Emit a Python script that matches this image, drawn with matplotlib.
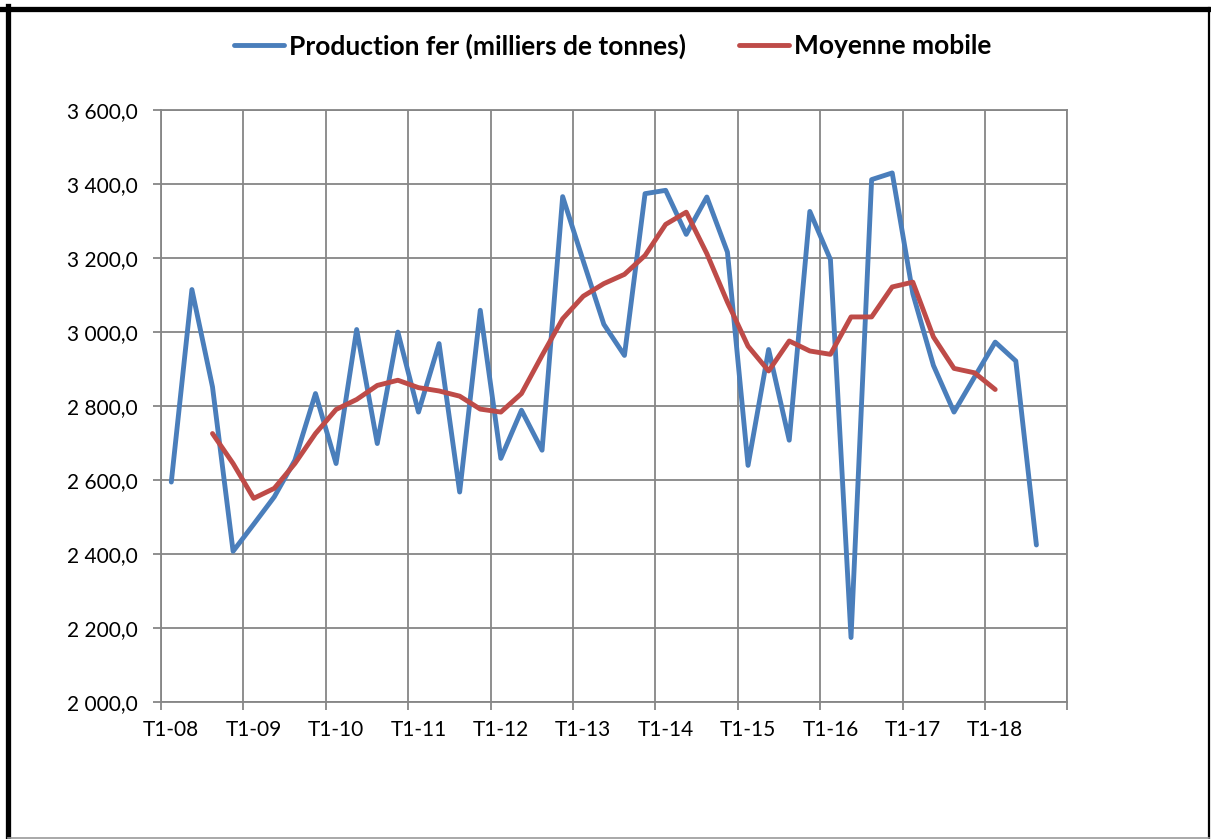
import matplotlib
matplotlib.use("Agg")
import matplotlib.pyplot as plt
from matplotlib.lines import Line2D
from matplotlib.ticker import FixedLocator, FuncFormatter

plt.rcParams['font.family'] = ['Lato', 'DejaVu Sans']

# ---- data ----
years = list(range(8, 19))
categories = [f"T{q}-{y:02d}" for y in years for q in range(1, 5)]  # 44 quarters
production = [2595, 3115, 2852, 2408, 2481, 2555, 2654, 2834, 2645, 3007,
              2699, 3000, 2784, 2969, 2568, 3059, 2659, 2789, 2681, 3366,
              3192, 3021, 2937, 3374, 3383, 3264, 3365, 3216, 2640, 2953,
              2708, 3326, 3196, 2175, 3412, 3430, 3104, 2910, 2784, 2879,
              2973, 2922, 2425]
ma_start = 2
moyenne_mobile = [2726, 2645, 2551, 2578, 2645, 2726, 2791, 2818, 2856, 2870,
                  2850, 2841, 2827, 2792, 2784, 2834, 2937, 3036, 3097, 3131,
                  3156, 3207, 3291, 3324, 3212, 3081, 2962, 2895, 2976, 2949,
                  2940, 3041, 3041, 3122, 3135, 2987, 2902, 2890, 2845]
y_ticks = [2000, 2200, 2400, 2600, 2800, 3000, 3200, 3400, 3600]
label_prod = "Production fer (milliers de tonnes)"
label_ma = "Moyenne mobile"

W, H = 1211, 839
fig = plt.figure(figsize=(W / 100, H / 100), dpi=100)
ax = fig.add_axes([161 / W, 1 - 702.3 / H, (1067.3 - 161) / W, (702.3 - 110) / H])

blue = "#4A7EBB"
red = "#BE4B48"
grid_c = "#868686"

x_prod = [i + 0.5 for i in range(len(production))]
x_ma = [i + ma_start + 0.5 for i in range(len(moyenne_mobile))]
ax.plot(x_prod, production, color=blue, lw=3.5, solid_joinstyle='round',
        solid_capstyle='round', label=label_prod, zorder=3)
ax.plot(x_ma, moyenne_mobile, color=red, lw=3.5, solid_joinstyle='round',
        solid_capstyle='round', label=label_ma, zorder=4)

ax.set_xlim(0, len(categories))
ax.set_ylim(y_ticks[0], y_ticks[-1])

ax.xaxis.set_major_locator(FixedLocator(list(range(0, len(categories) + 1, 4))))
ax.xaxis.set_major_formatter(FuncFormatter(lambda v, p: ""))
minor_pos = [i + 0.5 for i in range(0, len(categories), 4)]
ax.xaxis.set_minor_locator(FixedLocator(minor_pos))
ax.set_xticklabels([categories[i] for i in range(0, len(categories), 4)], minor=True)
ax.tick_params(axis='x', which='major', length=6, width=1.3, color=grid_c, direction='out')
ax.tick_params(axis='x', which='minor', length=0, pad=13, labelsize=15, labelcolor='black')

ax.set_yticks(y_ticks)
ax.yaxis.set_major_formatter(FuncFormatter(lambda v, p: f"{int(v):,}".replace(",", " ") + ",0"))
ax.tick_params(axis='y', length=6, width=1.3, color=grid_c, direction='out', pad=11,
               labelsize=15, labelcolor='black')

ax.grid(True, which='major', color=grid_c, lw=1.3)
ax.set_axisbelow(True)
for s in ax.spines.values():
    s.set_color(grid_c)
    s.set_linewidth(1.3)

leg = fig.legend(loc='center', bbox_to_anchor=(612.5 / W, 1 - 46 / H), ncol=2,
                 frameon=False, prop={'weight': 'bold', 'size': 19},
                 handlelength=1.9, handletextpad=0.2, columnspacing=2.0)

# outer frame
fig.add_artist(Line2D([0, 1], [1 - 8.5 / H, 1 - 8.5 / H], color='black', lw=3.8,
                      transform=fig.transFigure))
fig.add_artist(Line2D([7.5 / W, 7.5 / W], [0, 1 - 6 / H], color='black', lw=3.8,
                      transform=fig.transFigure))
fig.add_artist(Line2D([1209 / W, 1209 / W], [0, 1 - 8 / H], color='black', lw=1.6,
                      transform=fig.transFigure))
fig.add_artist(Line2D([7.5 / W, 1209 / W], [1.2 / H, 1.2 / H], color='#999999', lw=1.2,
                      transform=fig.transFigure))

fig.savefig("out.png", dpi=100)
